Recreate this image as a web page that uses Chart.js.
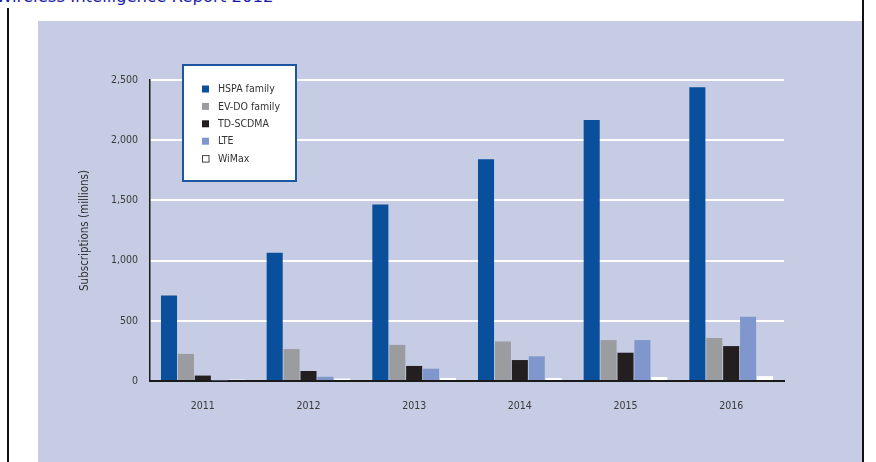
<!DOCTYPE html>
<html>
<head>
<meta charset="utf-8">
<script src="https://cdn.jsdelivr.net/npm/chart.js@4.4.0/dist/chart.umd.min.js"></script>
<style>
  html, body { margin: 0; padding: 0; background: #fff; }
  body { width: 876px; height: 462px; position: relative; overflow: hidden; }
  #title { position: absolute; left: -4px; top: -13px; font: 16.5px 'DejaVu Sans', Verdana, sans-serif; color: #1c1ca6; white-space: nowrap; }
  #lineL { position: absolute; left: 7px; top: 8px; width: 1.5px; height: 460px; background: #111; }
  #lineR { position: absolute; left: 862px; top: 0; width: 1.5px; height: 462px; background: #111; }
  #panel { position: absolute; left: 38px; top: 21px; width: 824px; height: 441px; background: #c5cce3; }
  canvas { position: absolute; left: 0; top: 0; }
</style>
</head>
<body>
<div id="title">Wireless Intelligence Report 2012</div>
<div id="lineL"></div>
<div id="lineR"></div>
<div id="panel"></div>
<canvas id="chart" width="876" height="462"></canvas>
<script>
// данные
const years = ['2011', '2012', '2013', '2014', '2015', '2016'];
const hspa = [710, 1065, 1465, 1842, 2168, 2440];
const evdo = [225, 265, 300, 328, 340, 357];
const tdscdma = [45, 83, 125, 174, 235, 290];
const lte = [5, 35, 102, 205, 340, 533];
const wimax = [12, 20, 25, 25, 33, 40];
const yTicks = [0, 500, 1000, 1500, 2000, 2500];

const font = "'Liberation Sans Narrow', 'DejaVu Sans Condensed', sans-serif";

// легенда внутри области графика
const boxLegend = {
  id: 'boxLegend',
  afterDraw(chart) {
    const ctx = chart.ctx;
    ctx.save();
    ctx.fillStyle = '#ffffff';
    ctx.fillRect(183, 65, 113, 116);
    ctx.strokeStyle = '#1d55a0';
    ctx.lineWidth = 2;
    ctx.strokeRect(183, 65, 113, 116);
    ctx.font = '10.5px ' + font;
    ctx.textBaseline = 'middle';
    chart.data.datasets.forEach((ds, i) => {
      let y = 89 + i * 17.4;
      ctx.fillStyle = ds.backgroundColor;
      ctx.fillRect(202, y - 3.5, 7, 7);
      if (ds.backgroundColor === '#ffffff') {
        ctx.strokeStyle = '#444';
        ctx.lineWidth = 1;
        ctx.strokeRect(202.5, y - 3, 6.5, 6.5);
      }
      ctx.fillStyle = '#333';
      ctx.fillText(ds.label, 218, y + 0.5);
    });
    ctx.restore();
  }
};

const ds = (label, data, color) => ({
  label: label,
  data: data,
  backgroundColor: color,
  borderWidth: 0,
  categoryPercentage: 0.8,
  barPercentage: 0.95
});

new Chart(document.getElementById('chart'), {
  type: 'bar',
  data: {
    labels: years,
    datasets: [
      ds('HSPA family', hspa, '#0a4f9c'),
      ds('EV-DO family', evdo, '#9a9c9f'),
      ds('TD-SCDMA', tdscdma, '#231f20'),
      ds('LTE', lte, '#7f97cc'),
      ds('WiMax', wimax, '#ffffff')
    ]
  },
  options: {
    responsive: false,
    animation: false,
    layout: { padding: { left: 70, top: 80, right: 92, bottom: 41 } },
    plugins: { legend: { display: false }, tooltip: { enabled: false } },
    scales: {
      x: {
        afterFit: s => { s.height = 40; },
        grid: { display: false },
        border: { color: '#1a1a1a', width: 2 },
        ticks: { color: '#3a3a3a', padding: 11, font: { family: font, size: 10.5 } }
      },
      y: {
        min: 0,
        max: 2500,
        afterFit: s => { s.width = 80; },
        afterBuildTicks: s => { s.ticks = yTicks.map(v => ({ value: v })); },
        grid: { color: '#ffffff', lineWidth: 2, drawTicks: false },
        border: { color: '#1a1a1a', width: 1.5 },
        ticks: { color: '#3a3a3a', padding: 12, font: { family: font, size: 10.5 } },
        title: {
          display: true,
          text: 'Subscriptions (millions)',
          color: '#333',
          padding: { top: 8, bottom: 0 },
          font: { family: font, size: 11.5 }
        }
      }
    }
  },
  plugins: [boxLegend]
});
</script>
</body>
</html>
